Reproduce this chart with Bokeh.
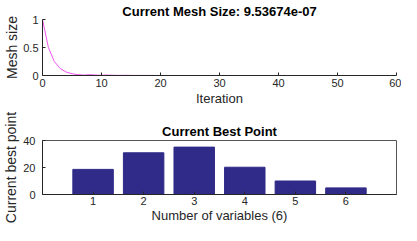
from bokeh.plotting import figure
from bokeh.layouts import column
from bokeh.models import Range1d, FixedTicker
from bokeh.embed import file_html
from bokeh.resources import INLINE

# ---- data ----
mesh_size = [1.0, 0.5, 0.25, 0.125, 0.0625, 0.03125, 0.015625, 0.0078125,
             0.015625, 0.0078125, 0.00390625, 0.0078125, 0.00390625, 0.001953125,
             0.00390625, 0.001953125, 0.0009765625, 0.001953125, 0.0009765625,
             0.00048828125, 0.0009765625, 0.00048828125, 0.000244140625,
             0.00048828125, 0.000244140625, 0.0001220703125, 0.000244140625,
             0.0001220703125, 6.103515625e-05, 0.0001220703125, 6.103515625e-05,
             3.0517578125e-05, 6.103515625e-05, 3.0517578125e-05, 1.52587890625e-05,
             3.0517578125e-05, 1.52587890625e-05, 7.62939453125e-06, 1.52587890625e-05,
             7.62939453125e-06, 3.814697265625e-06, 7.62939453125e-06, 3.814697265625e-06,
             1.9073486328125e-06, 3.814697265625e-06, 1.9073486328125e-06,
             9.5367431640625e-07, 1.9073486328125e-06, 9.5367431640625e-07,
             1.9073486328125e-06, 9.5367431640625e-07, 1.9073486328125e-06,
             9.5367431640625e-07, 1.9073486328125e-06, 9.5367431640625e-07,
             1.9073486328125e-06, 9.5367431640625e-07]
iterations = list(range(len(mesh_size)))

variables = [1, 2, 3, 4, 5, 6]
best_point = [18.6, 30.9, 35.1, 20.2, 10.0, 4.9]

top_x_ticks = [0, 10, 20, 30, 40, 50, 60]
top_y_ticks = [0, 0.5, 1]
bot_x_ticks = [1, 2, 3, 4, 5, 6]
bot_y_ticks = [0, 20, 40]

FONT = "Liberation Sans"
AX = "#262626"
LINE_COLOR = "#ee55ee"
BAR_COLOR = "#302a88"


def style_axis(ax, is_x):
    ax.axis_line_color = AX
    ax.major_tick_line_color = AX
    ax.major_tick_in = 3
    ax.major_tick_out = 0
    ax.minor_tick_line_color = None
    ax.major_label_text_font = FONT
    ax.major_label_text_font_size = "11px"
    ax.major_label_text_color = AX
    ax.axis_label_text_font = FONT
    ax.axis_label_text_font_style = "normal"
    ax.axis_label_text_color = AX
    if is_x:
        ax.axis_label_text_font_size = "13px"
    else:
        ax.axis_label_text_font_size = "14px"


def style(p):
    p.toolbar_location = None
    p.xgrid.visible = False
    p.ygrid.visible = False
    p.background_fill_color = "white"
    p.border_fill_color = "white"
    p.title.text_font = FONT
    p.title.text_font_size = "13px"
    p.title.text_font_style = "bold"
    p.title.text_color = "black"
    p.title.align = "center"
    style_axis(p.xaxis[0], True)
    style_axis(p.yaxis[0], False)


# ---- top plot ----
p1 = figure(width=401, height=108, output_backend="svg", toolbar_location=None,
            x_range=Range1d(0, 60), y_range=Range1d(0, 1),
            title="Current Mesh Size: 9.53674e-07",
            min_border_left=38, min_border_right=5, min_border_top=19,
            min_border_bottom=33)
style(p1)
p1.title.standoff = 2
p1.outline_line_color = None
p1.xaxis.axis_label = "Iteration"
p1.yaxis.axis_label = "Mesh size"
p1.xaxis.ticker = FixedTicker(ticks=top_x_ticks)
p1.yaxis.ticker = FixedTicker(ticks=top_y_ticks)
p1.yaxis.major_label_overrides = {0: "0", 0.5: "0.5", 1: "1"}
p1.xaxis.major_label_standoff = 3
p1.xaxis.axis_label_standoff = 1
p1.yaxis.major_label_standoff = 4
p1.yaxis.axis_label_standoff = 0
p1.line(iterations, mesh_size, line_color=LINE_COLOR, line_width=1)

# ---- bottom plot ----
p2 = figure(width=401, height=117, output_backend="svg", toolbar_location=None,
            x_range=Range1d(0, 7), y_range=Range1d(0, 40),
            title="Current Best Point",
            min_border_left=38, min_border_right=5, min_border_top=32,
            min_border_bottom=30)
style(p2)
p2.title.standoff = 3
p2.outline_line_color = "#555555"
p2.xaxis.axis_label = "Number of variables (6)"
p2.yaxis.axis_label = "Current best point"
p2.xaxis.ticker = FixedTicker(ticks=bot_x_ticks)
p2.yaxis.ticker = FixedTicker(ticks=bot_y_ticks)
p2.xaxis.major_label_standoff = 2
p2.xaxis.axis_label_standoff = 0
p2.yaxis.major_label_standoff = 7
p2.yaxis.axis_label_standoff = 1

p2.vbar(x=variables, top=best_point, width=0.8, fill_color=BAR_COLOR,
        line_color=BAR_COLOR)

layout = column(p1, p2, spacing=0)

open("out.html", "w").write(file_html(layout, INLINE))
